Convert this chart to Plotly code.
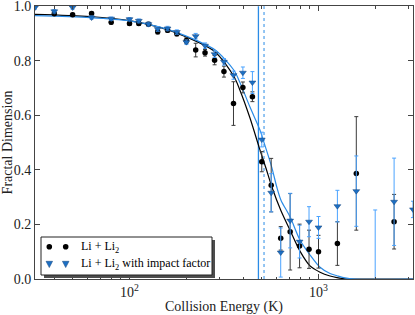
import plotly.graph_objects as go

# ---------------- data ----------------
energy_li = [40, 50, 63, 80, 100, 112, 126, 141, 159, 178, 200, 224, 251, 282, 316,
             355, 398, 447, 501, 562, 631, 708, 794, 891, 1000, 1259, 1585, 2512]
dim_li = [0.972, 0.968, 0.973, 0.941, 0.936, 0.936, 0.934, 0.906, 0.912, 0.899, 0.874,
          0.839, 0.829, 0.802, 0.760, 0.643, 0.702, 0.668, 0.430, 0.344, 0.149, 0.173,
          0.121, 0.109, 0.100, 0.130, 0.387, 0.210]
err_li = [0.006, 0.006, 0.006, 0.007, 0.007, 0.007, 0.007, 0.008, 0.008, 0.008, 0.010,
          0.025, 0.012, 0.017, 0.020, 0.080, 0.020, 0.018, 0.037, 0.098, 0.043, 0.140,
          0.080, 0.070, 0.060, 0.080, 0.208, 0.100]

energy_imp = [31.6, 40, 50, 63, 80, 100, 112, 126, 141, 159, 178, 200, 224, 251, 282,
              316, 355, 398, 447, 501, 562, 631, 708, 794, 891, 1000, 1259, 1585, 1995,
              2512, 3162]
dim_imp = [0.995, 0.981, 0.995, 0.958, 0.954, 0.952, 0.946, 0.934, 0.916, 0.918, 0.905,
           0.868, 0.890, 0.855, 0.824, 0.796, 0.747, 0.756, 0.720, 0.511, 0.316, 0.097,
           0.214, 0.137, 0.210, 0.189, 0.267, 0.322, -0.030, 0.283, 0.255]
err_imp = [0.006, 0.006, 0.006, 0.006, 0.006, 0.006, 0.007, 0.007, 0.008, 0.008, 0.008,
           0.008, 0.010, 0.010, 0.012, 0.012, 0.015, 0.021, 0.040, 0.027, 0.070, 0.090,
           0.100, 0.060, 0.055, 0.040, 0.058, 0.129, 0.283, 0.160, 0.030]

# fitted curves
fit_li_e = [31.6, 61.8, 100, 145, 200, 283, 357, 384, 434, 490, 528, 565, 633, 707,
            798, 902, 1019, 1151, 1253, 1381, 1560, 3162]
fit_li_d = [0.970, 0.962, 0.947, 0.922, 0.887, 0.833, 0.742, 0.692, 0.590, 0.473,
            0.405, 0.340, 0.250, 0.179, 0.102, 0.048, 0.025, 0.011, 0.005, 0.001, 0.0, 0.0]
fit_imp_e = [31.6, 61.8, 100, 145, 200, 283, 357, 384, 434, 490, 515, 565, 601, 633,
             707, 798, 902, 1019, 1151, 1253, 1381, 1560, 3162]
fit_imp_d = [0.965, 0.958, 0.946, 0.923, 0.890, 0.840, 0.765, 0.720, 0.630, 0.546,
             0.500, 0.411, 0.338, 0.289, 0.228, 0.143, 0.088, 0.043, 0.020, 0.012,
             0.004, 0.0, 0.0]

crit_li = 481      # solid vertical line
crit_imp = 515     # dotted vertical line

y_ticks = [0.0, 0.2, 0.4, 0.6, 0.8, 1.0]
y_ticktext = ["0.0", "0.2", "0.4", "0.6", "0.8", "1.0"]
x_ticks = [100, 1000]
x_ticktext = ["10<sup>2</sup>", "10<sup>3</sup>"]
x_minor = [40, 50, 60, 70, 80, 90, 200, 300, 400, 500, 600, 700, 800, 900, 2000, 3000]

legend_labels = ["Li + Li<sub>2</sub>", "Li + Li<sub>2</sub> with impact factor"]

# ---------------- styling ----------------
BLUE_LINE = "#2a8be6"
BLUE_ERR = "#4aa3ff"
BLUE_MARK = "#1c6fc4"
FONT = "Liberation Serif"

fig = go.Figure()

# vertical lines
fig.add_trace(go.Scatter(x=[crit_li, crit_li], y=[0, 1], mode="lines",
                         line=dict(color=BLUE_LINE, width=1.3), hoverinfo="skip",
                         showlegend=False))
fig.add_trace(go.Scatter(x=[crit_imp, crit_imp], y=[0, 1], mode="lines",
                         line=dict(color=BLUE_LINE, width=1, dash="dot"), hoverinfo="skip",
                         showlegend=False))

# fitted curves
fig.add_trace(go.Scatter(x=fit_li_e, y=fit_li_d, mode="lines",
                         line=dict(color="black", width=1.2, shape="spline", smoothing=0.8),
                         showlegend=False))
fig.add_trace(go.Scatter(x=fit_imp_e, y=fit_imp_d, mode="lines",
                         line=dict(color=BLUE_LINE, width=1.2, shape="spline", smoothing=0.8),
                         showlegend=False))

# data points with error bars
fig.add_trace(go.Scatter(x=energy_li, y=dim_li, mode="markers",
                         marker=dict(symbol="circle", size=5.5, color="black"),
                         error_y=dict(type="data", array=err_li, color="#3a3a3a",
                                      thickness=1, width=2),
                         showlegend=False))
fig.add_trace(go.Scatter(x=energy_imp, y=dim_imp, mode="markers",
                         marker=dict(symbol="triangle-down", size=6, color=BLUE_MARK,
                                     line=dict(color="#16457a", width=0.5)),
                         error_y=dict(type="data", array=err_imp, color=BLUE_ERR,
                                      thickness=1, width=2),
                         showlegend=False))

# ---------------- manual legend ----------------
W, H = 378.0, 273.0   # plot area in px
def px(x):
    return (x - 35) / W
def py(y):
    return (279 - y) / H

shapes = []
# shadow
shapes.append(dict(type="rect", xref="paper", yref="paper",
                   x0=px(44), x1=px(215), y0=py(278), y1=py(240),
                   fillcolor="#4d4d4d", line=dict(width=0), layer="above"))
# box
shapes.append(dict(type="rect", xref="paper", yref="paper",
                   x0=px(41), x1=px(212), y0=py(275), y1=py(237),
                   fillcolor="white", line=dict(color="#222", width=1), layer="above"))
row_y = [246.7, 264.3]
mark_x = [49.3, 65.7]
for mx in mark_x:
    r = 2.8
    shapes.append(dict(type="circle", xref="paper", yref="paper",
                       x0=px(mx - r), x1=px(mx + r), y0=py(row_y[0] + r), y1=py(row_y[0] - r),
                       fillcolor="black", line=dict(color="black", width=0), layer="above"))
    cy = row_y[1]
    path = "M {} {} L {} {} L {} {} Z".format(px(mx - 3.3), py(cy - 3), px(mx + 3.3), py(cy - 3),
                                             px(mx), py(cy + 3.3))
    shapes.append(dict(type="path", xref="paper", yref="paper", path=path,
                       fillcolor=BLUE_MARK, line=dict(color="#16457a", width=0.5), layer="above"))

annotations = []
for lbl, ry in zip(legend_labels, row_y):
    annotations.append(dict(xref="paper", yref="paper", x=px(79), y=py(ry), text=lbl,
                            showarrow=False, xanchor="left", yanchor="middle",
                            font=dict(family=FONT, size=12, color="black")))

fig.update_layout(
    width=415, height=315,
    margin=dict(l=35, r=2, t=6, b=36),
    paper_bgcolor="white", plot_bgcolor="white",
    font=dict(family=FONT, size=14, color="#222"),
    shapes=shapes, annotations=annotations,
    showlegend=False,
)
fig.update_xaxes(
    type="log", range=[1.5, 3.5], automargin=False, ticklabeloverflow="allow",
    tickvals=x_ticks, ticktext=x_ticktext,
    ticks="inside", ticklen=5, tickcolor="#444", tickwidth=1,
    minor=dict(tickvals=x_minor, ticks="inside", ticklen=2.5, tickcolor="#444"),
    showline=True, linecolor="#444", linewidth=1, mirror="ticks",
    showgrid=False, zeroline=False,
    title=dict(text="Collision Energy (K)", font=dict(family=FONT, size=14), standoff=2),
    tickfont=dict(family=FONT, size=14),
)
fig.update_yaxes(
    range=[0, 1.0005], tickvals=y_ticks, ticktext=y_ticktext, automargin=False,
    ticklabeloverflow="allow",
    ticks="inside", ticklen=5, tickcolor="#444", tickwidth=1,
    showline=True, linecolor="#444", linewidth=1, mirror="ticks",
    showgrid=False, zeroline=False,
    title=dict(text="Fractal Dimension", font=dict(family=FONT, size=14), standoff=2),
    tickfont=dict(family=FONT, size=14),
)

fig.write_html("out.html", config={"displayModeBar": False},
               post_script="document.body.style.margin='0';document.body.style.overflow='hidden';")
